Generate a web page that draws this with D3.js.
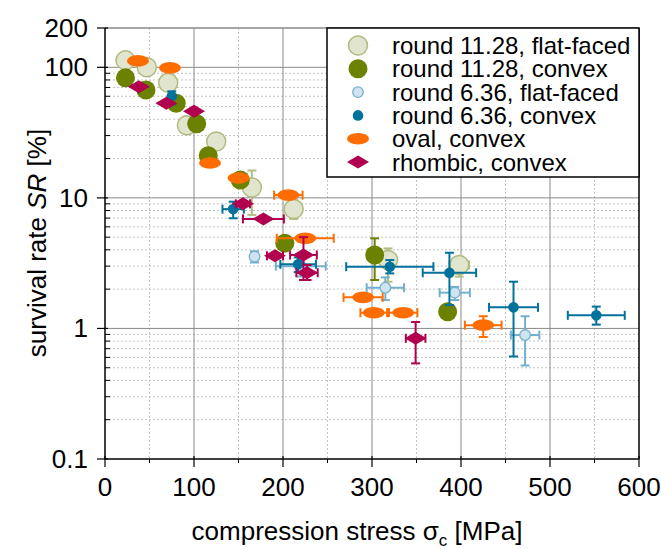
<!DOCTYPE html>
<html>
<head>
<meta charset="utf-8">
<script src="https://d3js.org/d3.v7.min.js"></script>
<style>
  body { margin: 0; padding: 0; background: #fff; }
  svg { display: block; font-family: Arial, "Liberation Sans", sans-serif; }
</style>
</head>
<body>
<div id="chart"></div>
<script>
// axis ticks
const xTicks = [0, 100, 200, 300, 400, 500, 600];
const xMinorTicks = [50, 150, 250, 350, 450, 550];
const yTicks = [0.1, 1, 10, 100, 200];
const yTickLabels = ['0.1', '1', '10', '100', '200'];

// round 11.28, flat-faced
const ff11X = [23, 47, 71, 92, 125, 165, 212, 318, 398];
const ff11Y = [113, 100, 76, 36, 27, 12, 8.2, 3.35, 3.06];
const ff11XErr = [0, 0, 0, 0, 0, 0, 0, 9, 11];
const ff11YLo = [null, null, null, null, null, 7.4, 6.9, 2.28, 2.49];
const ff11YHi = [null, null, null, null, null, 16.2, 9.6, 4.1, 3.45];

// round 11.28, convex
const cv11X = [23, 46, 80, 103, 116, 152, 202, 303, 385];
const cv11Y = [83, 67, 53, 37, 21, 13.7, 4.5, 3.65, 1.34];
const cv11XErr = [0, 0, 0, 0, 0, 0, 0, 0, 0];
const cv11YLo = [null, null, null, null, null, null, null, 2.35, null];
const cv11YHi = [null, null, null, null, null, null, null, 4.9, null];

// round 6.36, flat-faced
const ff6X = [168, 220, 315, 393, 472];
const ff6Y = [3.55, 3.0, 2.05, 1.88, 0.89];
const ff6XErr = [0, 28, 21, 17, 16];
const ff6YLo = [3.2, 2.5, 1.65, 1.65, 0.52];
const ff6YHi = [3.9, 3.4, 2.46, 2.08, 1.24];

// round 6.36, convex
const cv6X = [75, 144, 217, 320, 387, 459, 552];
const cv6Y = [60, 8.2, 3.1, 2.97, 2.67, 1.45, 1.26];
const cv6XErr = [0, 12, 20, 49, 30, 27.5, 32];
const cv6YLo = [52, 6.98, 2.7, 2.64, 1.51, 0.61, 1.07];
const cv6YHi = [65.5, 9.35, 3.5, 3.34, 3.8, 2.28, 1.47];

// oval, convex
const ovX = [37, 73, 118, 150, 206, 225, 290, 302, 335, 425];
const ovY = [112, 99, 18.5, 14.2, 10.5, 4.9, 1.73, 1.32, 1.32, 1.06];
const ovXErr = [0, 0, 0, 0, 16, 32, 22, 15, 16, 20.6];
const ovYLo = [null, null, null, null, null, null, null, null, null, 0.86];
const ovYHi = [null, null, null, null, null, null, null, null, null, 1.24];

// rhombic, convex
const rhX = [38, 69, 100, 155, 178, 191, 223, 227, 349];
const rhY = [71, 53, 46, 9.0, 6.9, 3.6, 3.65, 2.67, 0.84];
const rhXErr = [0, 0, 0, 8, 23, 9, 15, 12, 11];
const rhYLo = [null, null, null, null, null, null, 2.35, 2.35, 0.54];
const rhYHi = [null, null, null, null, null, null, 5.0, 3.06, 1.12];

const seriesNames = [
  'round 11.28, flat-faced', 'round 11.28, convex',
  'round 6.36, flat-faced', 'round 6.36, convex',
  'oval, convex', 'rhombic, convex'
];

// build series list
const series = [
  { name: seriesNames[0], shape: 'big', fill: '#e1e5cd', stroke: '#afbb7f', err: '#b3be85', x: ff11X, y: ff11Y, xe: ff11XErr, lo: ff11YLo, hi: ff11YHi },
  { name: seriesNames[1], shape: 'big', fill: '#6b8200', stroke: 'none', err: '#6b8200', x: cv11X, y: cv11Y, xe: cv11XErr, lo: cv11YLo, hi: cv11YHi },
  { name: seriesNames[2], shape: 'small', fill: '#cfe4ee', stroke: '#74b0ce', err: '#74b0ce', x: ff6X, y: ff6Y, xe: ff6XErr, lo: ff6YLo, hi: ff6YHi },
  { name: seriesNames[3], shape: 'small', fill: '#00729b', stroke: 'none', err: '#00729b', x: cv6X, y: cv6Y, xe: cv6XErr, lo: cv6YLo, hi: cv6YHi },
  { name: seriesNames[4], shape: 'oval', fill: '#ff6d00', stroke: 'none', err: '#ff6d00', x: ovX, y: ovY, xe: ovXErr, lo: ovYLo, hi: ovYHi },
  { name: seriesNames[5], shape: 'diamond', fill: '#b0004e', stroke: 'none', err: '#b0004e', x: rhX, y: rhY, xe: rhXErr, lo: rhYLo, hi: rhYHi }
];

const W = 661, H = 549;
const pLeft = 105, pRight = 639, pTop = 28, pBottom = 459;

const svg = d3.select('#chart').append('svg')
  .attr('width', W).attr('height', H);

const x = d3.scaleLinear().domain([0, 600]).range([pLeft, pRight]);
const y = d3.scaleLog().domain([0.1, 200]).range([pBottom, pTop]);

// minor y values (2..9 in each decade)
const yMinor = [];
[0.1, 1, 10, 100].forEach(d => {
  for (let k = 2; k <= 9; k++) {
    const v = d * k;
    if (v < 200) yMinor.push(v);
  }
});

// grid
const grid = svg.append('g');
grid.selectAll('.vminor').data(xMinorTicks).enter().append('line')
  .attr('x1', d => x(d)).attr('x2', d => x(d))
  .attr('y1', pTop).attr('y2', pBottom)
  .attr('stroke', '#c4c4c4').attr('stroke-dasharray', '2,2');
grid.selectAll('.hminor').data(yMinor).enter().append('line')
  .attr('x1', pLeft).attr('x2', pRight)
  .attr('y1', d => y(d)).attr('y2', d => y(d))
  .attr('stroke', '#c4c4c4').attr('stroke-dasharray', '2,2');
grid.selectAll('.vmajor').data(xTicks.slice(1, -1)).enter().append('line')
  .attr('x1', d => x(d)).attr('x2', d => x(d))
  .attr('y1', pTop).attr('y2', pBottom)
  .attr('stroke', '#8a8a8a');
grid.selectAll('.hmajor').data([1, 10, 100]).enter().append('line')
  .attr('x1', pLeft).attr('x2', pRight)
  .attr('y1', d => y(d)).attr('y2', d => y(d))
  .attr('stroke', '#8a8a8a');

// frame top / right
svg.append('line').attr('x1', pLeft).attr('x2', pRight).attr('y1', pTop).attr('y2', pTop)
  .attr('stroke', '#8a8a8a').attr('stroke-width', 1.5);
svg.append('line').attr('x1', pRight).attr('x2', pRight).attr('y1', pTop).attr('y2', pBottom)
  .attr('stroke', '#000').attr('stroke-width', 1.5);

// markers + error bars
const plot = svg.append('g');
series.forEach(s => {
  const g = plot.append('g');
  s.x.forEach((xv, i) => {
    const cx = x(xv), cy = y(s.y[i]);
    const e = g.append('g').attr('stroke', s.err).attr('stroke-width', 2).attr('fill', 'none');
    if (s.xe[i] > 0) {
      const x0 = x(xv - s.xe[i]), x1 = x(xv + s.xe[i]);
      e.append('line').attr('x1', x0).attr('x2', x1).attr('y1', cy).attr('y2', cy);
      e.append('line').attr('x1', x0).attr('x2', x0).attr('y1', cy - 4.5).attr('y2', cy + 4.5);
      e.append('line').attr('x1', x1).attr('x2', x1).attr('y1', cy - 4.5).attr('y2', cy + 4.5);
    }
    if (s.lo[i] != null) {
      const y0 = y(s.lo[i]), y1 = y(s.hi[i]);
      e.append('line').attr('x1', cx).attr('x2', cx).attr('y1', y0).attr('y2', y1);
      e.append('line').attr('x1', cx - 4.5).attr('x2', cx + 4.5).attr('y1', y0).attr('y2', y0);
      e.append('line').attr('x1', cx - 4.5).attr('x2', cx + 4.5).attr('y1', y1).attr('y2', y1);
    }
    drawMarker(g, s, cx, cy);
  });
});

function drawMarker(g, s, cx, cy) {
  if (s.shape === 'big') {
    g.append('circle').attr('cx', cx).attr('cy', cy).attr('r', 9.5)
      .attr('fill', s.fill).attr('stroke', s.stroke).attr('stroke-width', 1.5);
  } else if (s.shape === 'small') {
    g.append('circle').attr('cx', cx).attr('cy', cy).attr('r', 5.3)
      .attr('fill', s.fill).attr('stroke', s.stroke).attr('stroke-width', 1.3);
  } else if (s.shape === 'oval') {
    g.append('ellipse').attr('cx', cx).attr('cy', cy).attr('rx', 11).attr('ry', 5.8)
      .attr('fill', s.fill);
  } else {
    g.append('path')
      .attr('d', `M${cx - 11},${cy}L${cx},${cy - 6.5}L${cx + 11},${cy}L${cx},${cy + 6.5}Z`)
      .attr('fill', s.fill);
  }
}

// x axis
const xAxis = svg.append('g');
xAxis.append('line').attr('x1', pLeft).attr('x2', pRight).attr('y1', pBottom).attr('y2', pBottom)
  .attr('stroke', '#000').attr('stroke-width', 1.5);
xAxis.selectAll('.xt').data(xTicks).enter().append('line')
  .attr('x1', d => x(d)).attr('x2', d => x(d))
  .attr('y1', pBottom - 3).attr('y2', pBottom + 8)
  .attr('stroke', '#000').attr('stroke-width', 1.2);
xAxis.selectAll('.xm').data(xMinorTicks).enter().append('line')
  .attr('x1', d => x(d)).attr('x2', d => x(d))
  .attr('y1', pBottom).attr('y2', pBottom + 4)
  .attr('stroke', '#000').attr('stroke-width', 1);
xAxis.selectAll('.xl').data(xTicks).enter().append('text')
  .attr('x', d => x(d)).attr('y', 496)
  .attr('text-anchor', 'middle').attr('font-size', 26).attr('fill', '#000')
  .text(d => d);

// y axis
const yAxis = svg.append('g');
yAxis.append('line').attr('x1', pLeft).attr('x2', pLeft).attr('y1', pTop).attr('y2', pBottom)
  .attr('stroke', '#000').attr('stroke-width', 1.5);
yAxis.selectAll('.yt').data(yTicks).enter().append('line')
  .attr('x1', pLeft - 8).attr('x2', pLeft + 3)
  .attr('y1', d => y(d)).attr('y2', d => y(d))
  .attr('stroke', '#000').attr('stroke-width', 1.2);
yAxis.selectAll('.ym').data(yMinor).enter().append('line')
  .attr('x1', pLeft).attr('x2', pLeft + 5)
  .attr('y1', d => y(d)).attr('y2', d => y(d))
  .attr('stroke', '#000').attr('stroke-width', 1);
yAxis.selectAll('.yl').data(yTicks).enter().append('text')
  .attr('x', 88).attr('y', d => y(d) + 9)
  .attr('text-anchor', 'end').attr('font-size', 26).attr('fill', '#000')
  .text((d, i) => yTickLabels[i]);

// axis titles
const xt = svg.append('text').attr('x', 357).attr('y', 540)
  .attr('text-anchor', 'middle').attr('font-size', 26).attr('fill', '#000');
xt.append('tspan').text('compression stress ');
xt.append('tspan').text('σ');
xt.append('tspan').attr('font-size', 17).attr('dy', 6).text('c');
xt.append('tspan').attr('dy', -6).text(' [MPa]');

const yt = svg.append('text')
  .attr('transform', 'translate(46,243) rotate(-90)')
  .attr('text-anchor', 'middle').attr('font-size', 26).attr('fill', '#000');
yt.append('tspan').text('survival rate ');
yt.append('tspan').attr('font-style', 'italic').text('SR');
yt.append('tspan').text(' [%]');

// legend
const lg = svg.append('g');
lg.append('rect').attr('x', 327).attr('y', 28).attr('width', 312).attr('height', 149)
  .attr('fill', '#fff').attr('stroke', '#000').attr('stroke-width', 1.5);
series.forEach((s, i) => {
  const cy = 45.5 + i * 23.3;
  drawMarker(lg, s, 358, cy);
  lg.append('text').attr('x', 392).attr('y', cy + 8.5)
    .attr('font-size', 24).attr('fill', '#000').text(s.name);
});
</script>
</body>
</html>
